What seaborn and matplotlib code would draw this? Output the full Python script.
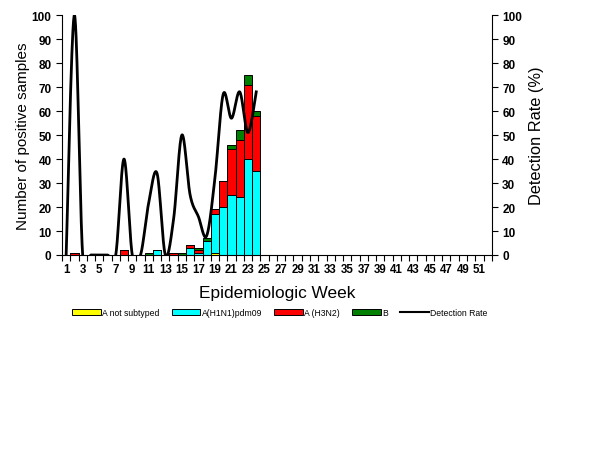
import numpy as np
import pandas as pd
import matplotlib
matplotlib.use("Agg")
import matplotlib.pyplot as plt
from matplotlib.patches import Patch
from matplotlib.lines import Line2D
import seaborn as sns

# weekly counts (weeks 1-24 reported, rest empty)
weeks = list(range(1, 53))
n_rep = 24
a_not_subtyped = [0]*18 + [1] + [0]*5
a_h1n1 = [0, 0, 0, 0, 0, 0, 0, 0, 0, 0, 0, 2, 0, 0, 0, 3, 1, 6, 16, 20, 25, 24, 40, 35]
a_h3n2 = [0, 1, 0, 0, 0, 0, 0, 2, 0, 0, 0, 0, 0, 1, 0, 1, 1, 0, 2, 11, 19, 24, 31, 23]
b_vals = [0, 0, 0, 0, 0, 0, 0, 0, 0, 0, 1, 0, 0, 0, 1, 0, 1, 1, 0, 0, 2, 4, 4, 2]
detection = [0, 100, 0, 0, 0, 0, 0, 40, 0, 0, 22, 34, 0, 15, 50, 25, 16, 8, 32, 67, 57, 68, 51, 68]

labels = ["A not subtyped", "A(H1N1)pdm09", "A (H3N2)", "B", "Detection Rate"]
colors = ["#ffff00", "#00ffff", "#ff0000", "#007f00"]

def pad(v):
    return list(v) + [np.nan] * (len(weeks) - len(v))

df = pd.DataFrame({"week": weeks, "yellow": pad(a_not_subtyped), "cyan": pad(a_h1n1),
                   "red": pad(a_h3n2), "green": pad(b_vals)})
df["c1"] = df["yellow"]
df["c2"] = df["c1"] + df["cyan"]
df["c3"] = df["c2"] + df["red"]
df["c4"] = df["c3"] + df["green"]

plt.rcParams["font.family"] = ["Liberation Sans", "DejaVu Sans"]
fig = plt.figure(figsize=(6.14, 4.6), dpi=100)
ax = fig.add_axes([0.101, 0.4435, 0.700, 0.5215])

# stacked bars drawn as overlaid cumulative totals
for col, c in zip(["c4", "c3", "c2", "c1"], colors[::-1]):
    sns.barplot(data=df, x="week", y=col, order=weeks, color=c, saturation=1,
                width=1.0, edgecolor="black", linewidth=0.7, ax=ax)

ax.set_xlim(-0.5, 51.5)
ax.set_ylim(0, 100)
ax.set_yticks(range(0, 101, 10))
ax.set_xticks(range(0, 52, 2))
ax.set_xticklabels([str(w) for w in weeks[::2]])
ax.set_xticks(np.arange(-0.5, 52, 1), minor=True)
ax.tick_params(axis="x", which="major", length=0, pad=6, labelsize=8.3)
ax.tick_params(axis="x", which="minor", length=4, direction="out", width=0.8)
ax.tick_params(axis="y", length=4, width=0.8, labelsize=8.5)
for t in ax.get_xticklabels() + ax.get_yticklabels():
    t.set_fontweight("bold")
ax.set_xlabel("Epidemiologic Week", fontsize=12.4, labelpad=7)
ax.set_ylabel("Number of positive samples", fontsize=11, labelpad=1)
for s in ["top", "right"]:
    ax.spines[s].set_visible(False)
for s in ["left", "bottom"]:
    ax.spines[s].set_linewidth(0.8)

# smoothed detection rate line (Catmull-Rom through the weekly points)
ax2 = ax.twinx()
px = np.arange(n_rep, dtype=float)
py = np.array(detection, dtype=float)
xs, ys = [], []
for i in range(n_rep - 1):
    p0 = max(i - 1, 0)
    p3 = min(i + 2, n_rep - 1)
    mx0, my0 = (px[i + 1] - px[p0]) / 2, (py[i + 1] - py[p0]) / 2
    mx1, my1 = (px[p3] - px[i]) / 2, (py[p3] - py[i]) / 2
    t = np.linspace(0, 1, 30)
    h00 = 2*t**3 - 3*t**2 + 1
    h10 = t**3 - 2*t**2 + t
    h01 = -2*t**3 + 3*t**2
    h11 = t**3 - t**2
    xs.extend(h00*px[i] + h10*mx0 + h01*px[i + 1] + h11*mx1)
    ys.extend(h00*py[i] + h10*my0 + h01*py[i + 1] + h11*my1)
ax2.plot(xs, ys, color="black", lw=2)
ax2.set_ylim(0, 100)
ax2.set_yticks(range(0, 101, 10))
ax2.tick_params(axis="y", length=4, width=0.8, labelsize=8.5)
for t in ax2.get_yticklabels():
    t.set_fontweight("bold")
ax2.set_ylabel("Detection Rate (%)", fontsize=11.8, labelpad=5)
for s in ["top", "left", "bottom"]:
    ax2.spines[s].set_visible(False)
ax2.spines["right"].set_linewidth(0.8)

handles = [Patch(facecolor=c, edgecolor="black", linewidth=0.7) for c in colors]
handles.append(Line2D([0], [0], color="black", lw=1.5))
fig.legend(handles, labels, loc="center", bbox_to_anchor=(0.456, 0.319), ncol=5,
           frameon=False, fontsize=6.2, handlelength=3.3, handleheight=0.7,
           handletextpad=0.2, columnspacing=1.4)

fig.savefig("out.png", dpi=100)
